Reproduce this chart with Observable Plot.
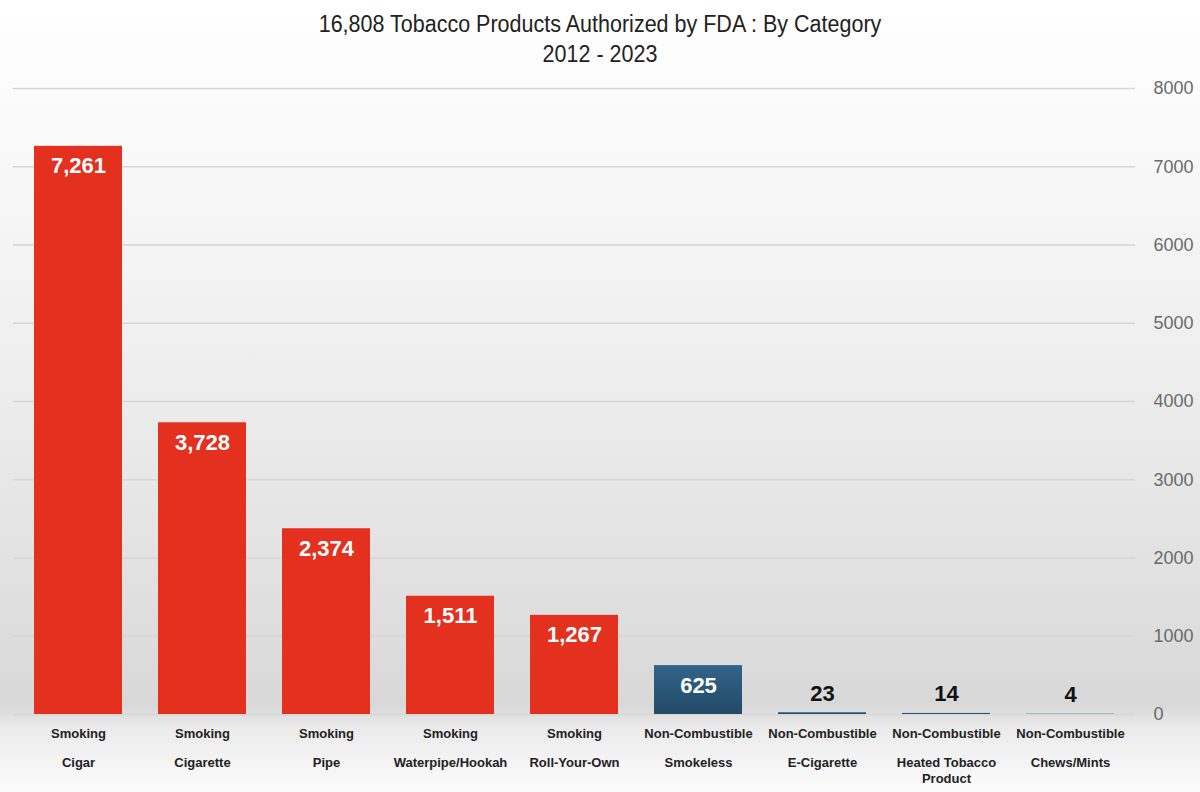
<!DOCTYPE html>
<html>
<head>
<meta charset="utf-8">
<script src="https://cdn.jsdelivr.net/npm/d3@7"></script>
<script src="https://cdn.jsdelivr.net/npm/@observablehq/plot@0.6"></script>
<style>
  html, body { margin: 0; padding: 0; }
  body {
    width: 1200px; height: 792px; overflow: hidden;
    background: linear-gradient(180deg, #ffffff 0px, #fafafa 120px, #efefef 350px, #e2e2e2 560px, #d8d8d8 705px, #ececec 730px, #fbfbfb 792px);
    font-family: "Liberation Sans", Arial, sans-serif;
  }
  #title { height: 80px; text-align: center; color: #222; font-size: 23px; }
  #title div { height: 30px; line-height: 30px; transform: scaleX(0.935); }
  #title .l1 { padding-top: 9px; }
  svg { display: block; background: transparent !important; }
</style>
</head>
<body>
<div id="title"><div class="l1">16,808 Tobacco Products Authorized by FDA : By Category</div><div>2012 - 2023</div></div>
<div id="chart"></div>
<script>
const groups = ["Smoking","Smoking","Smoking","Smoking","Smoking","Non-Combustible","Non-Combustible","Non-Combustible","Non-Combustible"];
const subcategories = ["Cigar","Cigarette","Pipe","Waterpipe/Hookah","Roll-Your-Own","Smokeless","E-Cigarette","Heated Tobacco\nProduct","Chews/Mints"];
const values = [7261, 3728, 2374, 1511, 1267, 625, 23, 14, 4];
const yTicks = [0, 1000, 2000, 3000, 4000, 5000, 6000, 7000, 8000];
const groupNames = ["Smoking", "Non-Combustible"];
const groupFills = ["#e3301f", "url(#blueGrad)"];

const data = subcategories.map((s, i) => ({sub: s, group: groups[i], value: values[i]}));
const fmt = d3.format(",");
const font = "'Liberation Sans', Arial, sans-serif";

// gradient definition for the blue (non-combustible) bars
function gradientDefs() {
  const svgNS = "http://www.w3.org/2000/svg";
  const defs = document.createElementNS(svgNS, "defs");
  defs.innerHTML = '<linearGradient id="blueGrad" x1="0" y1="0" x2="0" y2="1">' +
    '<stop offset="0%" stop-color="#316489"/><stop offset="100%" stop-color="#234a66"/></linearGradient>';
  return defs;
}

const chart = Plot.plot({
  width: 1200,
  height: 712,
  marginTop: 8,
  marginBottom: 78,
  marginLeft: 13,
  marginRight: 65,
  style: {background: "transparent", overflow: "visible"},
  x: {domain: subcategories, paddingInner: 0.29, paddingOuter: 0.145, axis: null},
  y: {domain: [0, 8000], axis: null},
  color: {domain: groupNames, range: groupFills},
  marks: [
    gradientDefs,
    Plot.ruleY(yTicks, {stroke: "#d6d6d6", strokeWidth: 1.5}),
    Plot.axisY(yTicks, {anchor: "right", tickSize: 0, tickPadding: 18, tickFormat: "d", fontSize: 18, color: "#6a6a6a", label: null, fontFamily: font}),
    Plot.barY(data, {x: "sub", y: "value", fill: "group"}),
    Plot.text(data.filter(d => d.value >= 100), {x: "sub", y: "value", text: d => fmt(d.value), dy: 20, fill: "white", fontSize: 22, fontWeight: "bold", fontFamily: font}),
    Plot.text(data.filter(d => d.value < 100), {x: "sub", y: "value", text: d => fmt(d.value), dy: -19, fill: "#111", fontSize: 22, fontWeight: "bold", fontFamily: font}),
    Plot.text(data, {x: "sub", y: 0, text: "group", dy: 19, fill: "#222", fontSize: 13, fontWeight: "bold", fontFamily: font}),
    Plot.text(data, {x: "sub", y: 0, text: "sub", dy: 40, lineAnchor: "top", lineHeight: 1.3, fill: "#222", fontSize: 13, fontWeight: "bold", fontFamily: font})
  ]
});
document.getElementById("chart").appendChild(chart);
</script>
</body>
</html>
